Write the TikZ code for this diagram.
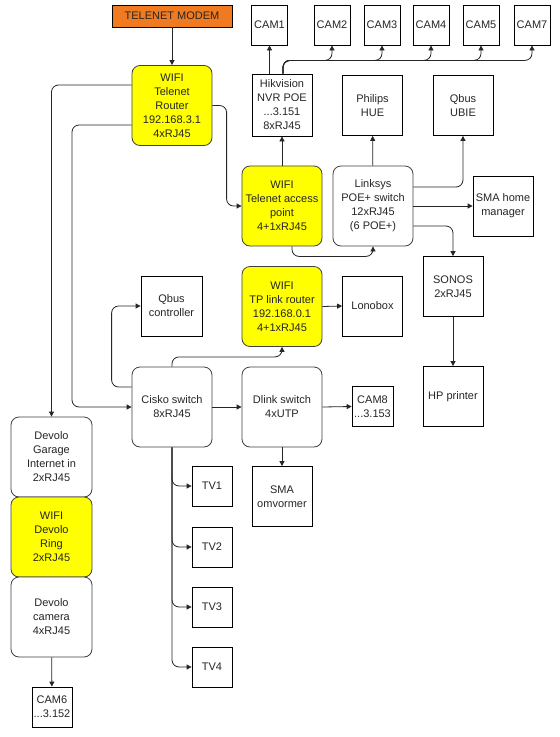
\documentclass[tikz,border=0pt]{standalone}
\usepackage{fontspec}
\setmainfont{Liberation Sans}
\usetikzlibrary{arrows.meta}
\definecolor{modemorange}{RGB}{240,122,32}
\definecolor{wifiyellow}{RGB}{255,255,0}
\begin{document}
\begin{tikzpicture}[x=1pt,y=-1pt,
  every node/.style={font=\fontsize{11}{14}\selectfont, align=center, inner sep=0pt, text=black!85},
  sq/.style={draw=black, line width=0.8pt, fill=white},
  rbox/.style={draw=black!75, line width=0.8pt, rounded corners=8pt, fill=white, minimum width=80pt, minimum height=80pt},
  ybox/.style={rbox, fill=wifiyellow},
  arr/.style={-{Triangle[length=5pt,width=5pt]}, line width=0.8pt, rounded corners=7pt, draw=black!85},
]
\useasboundingbox[fill=white] (0,0) rectangle (560,737);

% nodes
\node[sq, fill=modemorange, minimum width=120pt, minimum height=22pt] (modem) at (172,16) {TELENET MODEM};
\node[ybox] (router) at (172,105.5) {WIFI\\Telenet\\Router\\192.168.3.1\\4xRJ45};

\node[sq, minimum width=36pt, minimum height=40pt] (cam1) at (269.5,25) {CAM1};
\node[sq, minimum width=36pt, minimum height=40pt] (cam2) at (332,25) {CAM2};
\node[sq, minimum width=36pt, minimum height=40pt] (cam3) at (382,25) {CAM3};
\node[sq, minimum width=36pt, minimum height=40pt] (cam4) at (431,25) {CAM4};
\node[sq, minimum width=36pt, minimum height=40pt] (cam5) at (481,25) {CAM5};
\node[sq, minimum width=36pt, minimum height=40pt] (cam7) at (532,25) {CAM7};

\node[sq, minimum width=60pt, minimum height=62pt] (hik) at (282,105) {Hikvision\\NVR POE\\...3.151\\8xRJ45};
\node[sq, minimum width=60pt, minimum height=60pt] (hue) at (372.5,105.5) {Philips\\HUE};
\node[sq, minimum width=60pt, minimum height=60pt] (ubie) at (463,105.5) {Qbus\\UBIE};

\node[ybox] (ap) at (282,206) {WIFI\\Telenet access\\point\\4+1xRJ45};
\node[rbox] (ls) at (373,206) {Linksys\\POE+ switch\\12xRJ45\\(6 POE+)};
\node[sq, minimum width=60pt, minimum height=60pt] (sma) at (503,206) {SMA home\\manager};

\node[sq, minimum width=60pt, minimum height=60pt] (sonos) at (453,286.5) {SONOS\\2xRJ45};
\node[sq, minimum width=60pt, minimum height=60pt] (hp) at (453,396.5) {HP printer};

\node[sq, minimum width=61pt, minimum height=60pt] (qc) at (171.5,306) {Qbus\\controller};
\node[ybox] (tp) at (282,306.5) {WIFI\\TP link router\\192.168.0.1\\4+1xRJ45};
\node[sq, minimum width=60pt, minimum height=60pt] (lono) at (372.5,306) {Lonobox};

\node[rbox] (cisko) at (172,407) {Cisko switch\\8xRJ45};
\node[rbox] (dlink) at (282,407) {Dlink switch\\4xUTP};
\node[sq, minimum width=41pt, minimum height=40pt] (cam8) at (372.5,406.5) {CAM8\\...3.153};
\node[sq, minimum width=60pt, minimum height=60pt] (omv) at (282,496.5) {SMA\\omvormer};

\node[sq, minimum width=40pt, minimum height=40pt] (tv1) at (212,486) {TV1};
\node[sq, minimum width=40pt, minimum height=40pt] (tv2) at (212,547) {TV2};
\node[sq, minimum width=40pt, minimum height=40pt] (tv3) at (212,607) {TV3};
\node[sq, minimum width=40pt, minimum height=40pt] (tv4) at (212,667) {TV4};

\node[rbox, minimum width=81pt] (garage) at (51.5,457) {Devolo\\Garage\\Internet in\\2xRJ45};
\node[ybox, minimum width=81pt] (ring) at (51.5,537) {WIFI\\Devolo\\Ring\\2xRJ45};
\node[rbox, minimum width=81pt] (dcam) at (51.5,617) {Devolo\\camera\\4xRJ45};
\node[sq, minimum width=40pt, minimum height=40pt] (cam6) at (52,707) {CAM6\\...3.152};

% connectors
\draw[arr] (modem) -- (router);
\draw[arr] (router.west |- 0,85) -| (garage.north);
\draw[arr] (router.west |- 0,125) -| (72,300) |- (cisko.west);
\draw[arr] (router.east) -| ([xshift=-15pt]ap.west) -- (ap.west);

\draw[arr] (ap) -- (hik);
\draw[arr] (cam1.south |- hik.north) -- (cam1.south);
\foreach \c in {cam2,cam3,cam4,cam5,cam7}{
  \draw[arr] ([xshift=1pt]hik.north) |- ([yshift=-15pt]\c.south) -- (\c.south);
}
\draw[arr] ([xshift=10pt]ap.south) |- ([yshift=-10pt]ls.south) -- (ls.south);
\draw[arr] (ls) -- (hue);
\draw[arr] (ls.east |- 0,187) -| (ubie.south);
\draw[arr] (ls.east) -- (sma.west);
\draw[arr] (ls.east |- 0,226) -| (sonos.north);
\draw[arr] (sonos) -- (hp);

\draw[arr] (tp.east) -- (lono.west);
\draw[arr] (cisko.north) |- ([yshift=-10pt]tp.south) -- (tp.south);
\draw[arr] (cisko.west |- 0,387) -| ([xshift=-29pt]qc.west) -- (qc.west);
\draw[arr] (cisko) -- (dlink);
\draw[arr] (dlink.east) -- (cam8.west);
\draw[arr] (dlink) -- (omv);
\foreach \t in {tv1,tv2,tv3,tv4}{
  \draw[arr] (cisko.south) |- (\t.west);
}
\draw[arr] (dcam) -- (cam6);
\end{tikzpicture}
\end{document}
